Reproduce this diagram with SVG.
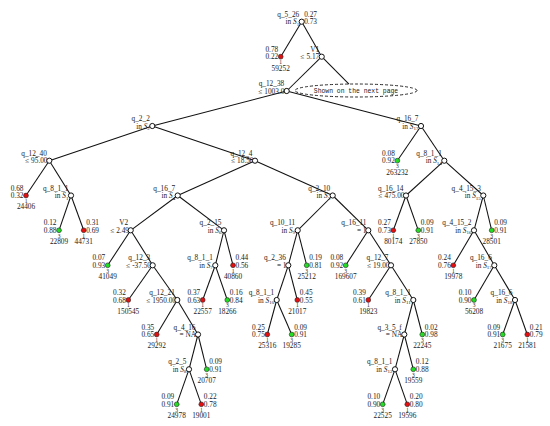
<svg xmlns="http://www.w3.org/2000/svg" width="550" height="426" viewBox="0 0 550 426">
<style>
text{font-family:"Liberation Serif","DejaVu Serif",serif;font-size:7.3px;fill:#1a1a1a}
.r{text-anchor:end}
.s{text-anchor:start}
.c{text-anchor:middle}
.d{font-size:5.5px}
.it{font-style:italic}
.sb{font-size:5px}
.e line{stroke:#111;stroke-width:1.05}
.in{fill:#fff;stroke:#111;stroke-width:1}
.red{fill:#e31010;stroke:#222;stroke-width:0.6}
.grn{fill:#22dd22;stroke:#222;stroke-width:0.6}
.tt{font-family:"Liberation Mono",monospace;font-size:6.4px}
</style>
<rect width="550" height="426" fill="#fff"/>
<g id="connectors" class="e">
<line x1="301.7" y1="21.7" x2="280.7" y2="56.7"/>
<line x1="301.7" y1="21.7" x2="321.7" y2="56.7"/>
<line x1="321.7" y1="56.7" x2="286.7" y2="91"/>
<line x1="321.7" y1="56.7" x2="349" y2="84.2"/>
<line x1="286.7" y1="91" x2="152.3" y2="126"/>
<line x1="286.7" y1="91" x2="421" y2="126"/>
<line x1="152.3" y1="126" x2="49.3" y2="160.7"/>
<line x1="152.3" y1="126" x2="255" y2="160.7"/>
<line x1="421" y1="126" x2="397.3" y2="160.7"/>
<line x1="421" y1="126" x2="444.3" y2="160.7"/>
<line x1="49.3" y1="160.7" x2="26" y2="195.5"/>
<line x1="49.3" y1="160.7" x2="71" y2="195.5"/>
<line x1="71" y1="195.5" x2="59" y2="230.3"/>
<line x1="71" y1="195.5" x2="83.7" y2="230.3"/>
<line x1="255" y1="160.7" x2="177.7" y2="195.5"/>
<line x1="255" y1="160.7" x2="332.7" y2="195.5"/>
<line x1="444.3" y1="160.7" x2="406" y2="195.5"/>
<line x1="444.3" y1="160.7" x2="483.3" y2="195.5"/>
<line x1="177.7" y1="195.5" x2="130.7" y2="230.3"/>
<line x1="177.7" y1="195.5" x2="224" y2="230.3"/>
<line x1="130.7" y1="230.3" x2="107.7" y2="265.3"/>
<line x1="130.7" y1="230.3" x2="152.7" y2="265.3"/>
<line x1="152.7" y1="265.3" x2="128.3" y2="300"/>
<line x1="152.7" y1="265.3" x2="177.3" y2="300"/>
<line x1="177.3" y1="300" x2="156.7" y2="334.5"/>
<line x1="177.3" y1="300" x2="198" y2="334.5"/>
<line x1="198" y1="334.5" x2="189" y2="369.3"/>
<line x1="198" y1="334.5" x2="206.7" y2="369.3"/>
<line x1="189" y1="369.3" x2="176.7" y2="404.3"/>
<line x1="189" y1="369.3" x2="201.3" y2="404.3"/>
<line x1="224" y1="230.3" x2="215.3" y2="265.3"/>
<line x1="224" y1="230.3" x2="233" y2="265.3"/>
<line x1="215.3" y1="265.3" x2="202.7" y2="300"/>
<line x1="215.3" y1="265.3" x2="227.3" y2="300"/>
<line x1="332.7" y1="195.5" x2="297.7" y2="230.3"/>
<line x1="332.7" y1="195.5" x2="368.3" y2="230.3"/>
<line x1="297.7" y1="230.3" x2="288.3" y2="265.3"/>
<line x1="297.7" y1="230.3" x2="306.7" y2="265.3"/>
<line x1="288.3" y1="265.3" x2="276.7" y2="300"/>
<line x1="288.3" y1="265.3" x2="297.3" y2="300"/>
<line x1="276.7" y1="300" x2="267.3" y2="334.5"/>
<line x1="276.7" y1="300" x2="291.7" y2="334.5"/>
<line x1="368.3" y1="230.3" x2="345.7" y2="265.3"/>
<line x1="368.3" y1="230.3" x2="391" y2="265.3"/>
<line x1="391" y1="265.3" x2="368.3" y2="300"/>
<line x1="391" y1="265.3" x2="413.3" y2="300"/>
<line x1="413.3" y1="300" x2="404.3" y2="334.5"/>
<line x1="413.3" y1="300" x2="422.3" y2="334.5"/>
<line x1="404.3" y1="334.5" x2="395" y2="369.3"/>
<line x1="404.3" y1="334.5" x2="413.3" y2="369.3"/>
<line x1="395" y1="369.3" x2="382.7" y2="404.3"/>
<line x1="395" y1="369.3" x2="407.3" y2="404.3"/>
<line x1="406" y1="195.5" x2="393.3" y2="230.3"/>
<line x1="406" y1="195.5" x2="418.3" y2="230.3"/>
<line x1="483.3" y1="195.5" x2="474" y2="230.3"/>
<line x1="483.3" y1="195.5" x2="491.7" y2="230.3"/>
<line x1="474" y1="230.3" x2="453.3" y2="265.3"/>
<line x1="474" y1="230.3" x2="494.3" y2="265.3"/>
<line x1="494.3" y1="265.3" x2="474" y2="300"/>
<line x1="494.3" y1="265.3" x2="515" y2="300"/>
<line x1="515" y1="300" x2="502.7" y2="334.5"/>
<line x1="515" y1="300" x2="527.3" y2="334.5"/>
</g>
<g id="next-page">
<ellipse cx="356" cy="90.5" rx="61" ry="6.5" fill="none" stroke="#111" stroke-width="0.9" stroke-dasharray="3,2"/>
<text class="c tt" x="356" y="92.7">Shown on the next page</text>
</g>
<g id="n0"><text class="r" x="299.2" y="16.7">q_5_26</text><text class="r" x="299.2" y="24.2">in <tspan class="it">S</tspan><tspan class="sb" dy="1.5">1</tspan></text><text class="s" x="304.2" y="16.7">0.27</text><text class="s" x="304.2" y="24.2">0.73</text><circle class="in" cx="301.7" cy="21.7" r="2.6"/></g>
<g id="n1"><text class="r" x="319.2" y="51.7">V1</text><text class="r" x="319.2" y="59.2">≤ 5.17</text><circle class="in" cx="321.7" cy="56.7" r="2.6"/></g>
<g id="n2"><text class="r" x="284.2" y="86">q_12_38</text><text class="r" x="288" y="93.5">≤ 1003.00</text><circle class="in" cx="286.7" cy="91" r="2.6"/></g>
<g id="n3"><text class="r" x="149.8" y="121">q_2_2</text><text class="r" x="149.8" y="128.5">in <tspan class="it">S</tspan><tspan class="sb" dy="1.5">2</tspan></text><circle class="in" cx="152.3" cy="126" r="2.6"/></g>
<g id="n4"><text class="r" x="418.5" y="121">q_16_7</text><text class="r" x="418.5" y="128.5">in <tspan class="it">S</tspan><tspan class="sb" dy="1.5">17</tspan></text><circle class="in" cx="421" cy="126" r="2.6"/></g>
<g id="n5"><text class="r" x="46.8" y="155.7">q_12_40</text><text class="r" x="47.5" y="163.2">≤ 95.00</text><circle class="in" cx="49.3" cy="160.7" r="2.6"/></g>
<g id="n6"><text class="r" x="252.5" y="155.7">q_12_4</text><text class="r" x="253.5" y="163.2">≤ 18.50</text><circle class="in" cx="255" cy="160.7" r="2.6"/></g>
<g id="n7"><text class="r" x="441.8" y="155.7">q_8_1_1</text><text class="r" x="441.8" y="163.2">in <tspan class="it">S</tspan><tspan class="sb" dy="1.5">14</tspan></text><circle class="in" cx="444.3" cy="160.7" r="2.6"/></g>
<g id="n8"><text class="r" x="68.5" y="190.5">q_8_1_1</text><text class="r" x="68.5" y="198">in <tspan class="it">S</tspan><tspan class="sb" dy="1.5">1</tspan></text><circle class="in" cx="71" cy="195.5" r="2.6"/></g>
<g id="n9"><text class="r" x="175.2" y="190.5">q_16_7</text><text class="r" x="175.2" y="198">in <tspan class="it">S</tspan><tspan class="sb" dy="1.5">4</tspan></text><circle class="in" cx="177.7" cy="195.5" r="2.6"/></g>
<g id="n10"><text class="r" x="330.2" y="190.5">q_2_10</text><text class="r" x="330.2" y="198">in <tspan class="it">S</tspan><tspan class="sb" dy="1.5">3</tspan></text><circle class="in" cx="332.7" cy="195.5" r="2.6"/></g>
<g id="n11"><text class="r" x="403.5" y="190.5">q_16_14</text><text class="r" x="404.5" y="198">≤ 475.00</text><circle class="in" cx="406" cy="195.5" r="2.6"/></g>
<g id="n12"><text class="r" x="480.8" y="190.5">q_4_15_3</text><text class="r" x="480.8" y="198">in <tspan class="it">S</tspan><tspan class="sb" dy="1.5">15</tspan></text><circle class="in" cx="483.3" cy="195.5" r="2.6"/></g>
<g id="n13"><text class="r" x="128.2" y="225.3">V2</text><text class="r" x="129" y="232.8">≤ 2.49</text><circle class="in" cx="130.7" cy="230.3" r="2.6"/></g>
<g id="n14"><text class="r" x="221.5" y="225.3">q_2_15</text><text class="r" x="221.5" y="232.8">in <tspan class="it">S</tspan><tspan class="sb" dy="1.5">6</tspan></text><circle class="in" cx="224" cy="230.3" r="2.6"/></g>
<g id="n15"><text class="r" x="295.2" y="225.3">q_10_11</text><text class="r" x="295.2" y="232.8">in <tspan class="it">S</tspan><tspan class="sb" dy="1.5">9</tspan></text><circle class="in" cx="297.7" cy="230.3" r="2.6"/></g>
<g id="n16"><text class="r" x="366.5" y="225.3">q_16_11</text><text class="r" x="366.5" y="232.8">= 1</text><circle class="in" cx="368.3" cy="230.3" r="2.6"/></g>
<g id="n17"><text class="r" x="471.5" y="225.3">q_4_15_2</text><text class="r" x="471.5" y="232.8">in <tspan class="it">S</tspan><tspan class="sb" dy="1.5">16</tspan></text><circle class="in" cx="474" cy="230.3" r="2.6"/></g>
<g id="n18"><text class="r" x="150.2" y="260.3">q_12_3</text><text class="r" x="151" y="267.8">≤ -37.50</text><circle class="in" cx="152.7" cy="265.3" r="2.6"/></g>
<g id="n19"><text class="r" x="212.8" y="260.3">q_8_1_1</text><text class="r" x="212.8" y="267.8">in <tspan class="it">S</tspan><tspan class="sb" dy="1.5">7</tspan></text><circle class="in" cx="215.3" cy="265.3" r="2.6"/></g>
<g id="n20"><text class="r" x="285.8" y="260.3">q_2_36</text><text class="r" x="286.5" y="267.8">= 1</text><circle class="in" cx="288.3" cy="265.3" r="2.6"/></g>
<g id="n21"><text class="r" x="388.5" y="260.3">q_12_7</text><text class="r" x="389.5" y="267.8">≤ 19.00</text><circle class="in" cx="391" cy="265.3" r="2.6"/></g>
<g id="n22"><text class="r" x="491.8" y="260.3">q_16_6</text><text class="r" x="491.8" y="267.8">in <tspan class="it">S</tspan><tspan class="sb" dy="1.5">17</tspan></text><circle class="in" cx="494.3" cy="265.3" r="2.6"/></g>
<g id="n23"><text class="r" x="174.8" y="295">q_12_21</text><text class="r" x="176" y="302.5">≤ 1950.00</text><circle class="in" cx="177.3" cy="300" r="2.6"/></g>
<g id="n24"><text class="r" x="274.2" y="295">q_8_1_1</text><text class="r" x="274.2" y="302.5">in <tspan class="it">S</tspan><tspan class="sb" dy="1.5">10</tspan></text><circle class="in" cx="276.7" cy="300" r="2.6"/></g>
<g id="n25"><text class="r" x="410.8" y="295">q_8_1_1</text><text class="r" x="410.8" y="302.5">in <tspan class="it">S</tspan><tspan class="sb" dy="1.5">11</tspan></text><circle class="in" cx="413.3" cy="300" r="2.6"/></g>
<g id="n26"><text class="r" x="512.5" y="295">q_16_6</text><text class="r" x="512.5" y="302.5">in <tspan class="it">S</tspan><tspan class="sb" dy="1.5">18</tspan></text><circle class="in" cx="515" cy="300" r="2.6"/></g>
<g id="n27"><text class="r" x="195.5" y="329.5">q_4_16</text><text class="r" x="196" y="337">= NA</text><circle class="in" cx="198" cy="334.5" r="2.6"/></g>
<g id="n28"><text class="r" x="401.8" y="329.5">q_3_5_f</text><text class="r" x="402.3" y="337">= NA</text><circle class="in" cx="404.3" cy="334.5" r="2.6"/></g>
<g id="n29"><text class="r" x="186.5" y="364.3">q_2_5</text><text class="r" x="186.5" y="371.8">in <tspan class="it">S</tspan><tspan class="sb" dy="1.5">8</tspan></text><circle class="in" cx="189" cy="369.3" r="2.6"/></g>
<g id="n30"><text class="r" x="392.5" y="364.3">q_8_1_1</text><text class="r" x="392.5" y="371.8">in <tspan class="it">S</tspan><tspan class="sb" dy="1.5">12</tspan></text><circle class="in" cx="395" cy="369.3" r="2.6"/></g>
<g id="leaf59252"><text class="r" x="278.2" y="51.7">0.78</text><text class="r" x="278.2" y="59.2">0.22</text><circle class="red" cx="280.7" cy="56.7" r="2.4"/><text class="c d" x="280.7" y="64">1</text><text class="c" x="280.7" y="70.5">59252</text></g>
<g id="leaf263232"><text class="r" x="394.8" y="155.7">0.08</text><text class="r" x="394.8" y="163.2">0.92</text><circle class="grn" cx="397.3" cy="160.7" r="2.4"/><text class="c d" x="397.3" y="168">3</text><text class="c" x="397.3" y="174.5">263232</text></g>
<g id="leaf24406"><text class="r" x="23.5" y="190.5">0.68</text><text class="r" x="23.5" y="198">0.32</text><circle class="red" cx="26" cy="195.5" r="2.4"/><text class="c d" x="26" y="202.8">1</text><text class="c" x="26" y="209.3">24406</text></g>
<g id="leaf22809"><text class="r" x="56.5" y="225.3">0.12</text><text class="r" x="56.5" y="232.8">0.88</text><circle class="grn" cx="59" cy="230.3" r="2.4"/><text class="c d" x="59" y="237.6">3</text><text class="c" x="59" y="244.1">22809</text></g>
<g id="leaf44731"><text class="s" x="86.2" y="225.3">0.31</text><text class="s" x="86.2" y="232.8">0.69</text><circle class="red" cx="83.7" cy="230.3" r="2.4"/><text class="c d" x="83.7" y="237.6">1</text><text class="c" x="83.7" y="244.1">44731</text></g>
<g id="leaf80174"><text class="r" x="390.8" y="225.3">0.27</text><text class="r" x="390.8" y="232.8">0.73</text><circle class="red" cx="393.3" cy="230.3" r="2.4"/><text class="c d" x="393.3" y="237.6">1</text><text class="c" x="393.3" y="244.1">80174</text></g>
<g id="leaf27850"><text class="s" x="420.8" y="225.3">0.09</text><text class="s" x="420.8" y="232.8">0.91</text><circle class="grn" cx="418.3" cy="230.3" r="2.4"/><text class="c d" x="418.3" y="237.6">3</text><text class="c" x="418.3" y="244.1">27850</text></g>
<g id="leaf28501"><text class="s" x="494.2" y="225.3">0.09</text><text class="s" x="494.2" y="232.8">0.91</text><circle class="grn" cx="491.7" cy="230.3" r="2.4"/><text class="c d" x="491.7" y="237.6">3</text><text class="c" x="491.7" y="244.1">28501</text></g>
<g id="leaf41049"><text class="r" x="105.2" y="260.3">0.07</text><text class="r" x="105.2" y="267.8">0.93</text><circle class="grn" cx="107.7" cy="265.3" r="2.4"/><text class="c d" x="107.7" y="272.6">3</text><text class="c" x="107.7" y="279.1">41049</text></g>
<g id="leaf40860"><text class="s" x="235.5" y="260.3">0.44</text><text class="s" x="235.5" y="267.8">0.56</text><circle class="red" cx="233" cy="265.3" r="2.4"/><text class="c d" x="233" y="272.6">1</text><text class="c" x="233" y="279.1">40860</text></g>
<g id="leaf25212"><text class="s" x="309.2" y="260.3">0.19</text><text class="s" x="309.2" y="267.8">0.81</text><circle class="grn" cx="306.7" cy="265.3" r="2.4"/><text class="c d" x="306.7" y="272.6">3</text><text class="c" x="306.7" y="279.1">25212</text></g>
<g id="leaf169607"><text class="r" x="343.2" y="260.3">0.08</text><text class="r" x="343.2" y="267.8">0.92</text><circle class="grn" cx="345.7" cy="265.3" r="2.4"/><text class="c d" x="345.7" y="272.6">3</text><text class="c" x="345.7" y="279.1">169607</text></g>
<g id="leaf19978"><text class="r" x="450.8" y="260.3">0.24</text><text class="r" x="450.8" y="267.8">0.76</text><circle class="red" cx="453.3" cy="265.3" r="2.4"/><text class="c d" x="453.3" y="272.6">1</text><text class="c" x="453.3" y="279.1">19978</text></g>
<g id="leaf150545"><text class="r" x="125.8" y="295">0.32</text><text class="r" x="125.8" y="302.5">0.68</text><circle class="red" cx="128.3" cy="300" r="2.4"/><text class="c d" x="128.3" y="307.3">1</text><text class="c" x="128.3" y="313.8">150545</text></g>
<g id="leaf22557"><text class="r" x="200.2" y="295">0.37</text><text class="r" x="200.2" y="302.5">0.63</text><circle class="red" cx="202.7" cy="300" r="2.4"/><text class="c d" x="202.7" y="307.3">1</text><text class="c" x="202.7" y="313.8">22557</text></g>
<g id="leaf18266"><text class="s" x="229.8" y="295">0.16</text><text class="s" x="229.8" y="302.5">0.84</text><circle class="grn" cx="227.3" cy="300" r="2.4"/><text class="c d" x="227.3" y="307.3">3</text><text class="c" x="227.3" y="313.8">18266</text></g>
<g id="leaf21017"><text class="s" x="299.8" y="295">0.45</text><text class="s" x="299.8" y="302.5">0.55</text><circle class="red" cx="297.3" cy="300" r="2.4"/><text class="c d" x="297.3" y="307.3">1</text><text class="c" x="297.3" y="313.8">21017</text></g>
<g id="leaf19823"><text class="r" x="365.8" y="295">0.39</text><text class="r" x="365.8" y="302.5">0.61</text><circle class="red" cx="368.3" cy="300" r="2.4"/><text class="c d" x="368.3" y="307.3">1</text><text class="c" x="368.3" y="313.8">19823</text></g>
<g id="leaf56208"><text class="r" x="471.5" y="295">0.10</text><text class="r" x="471.5" y="302.5">0.90</text><circle class="grn" cx="474" cy="300" r="2.4"/><text class="c d" x="474" y="307.3">3</text><text class="c" x="474" y="313.8">56208</text></g>
<g id="leaf29292"><text class="r" x="154.2" y="329.5">0.35</text><text class="r" x="154.2" y="337">0.65</text><circle class="red" cx="156.7" cy="334.5" r="2.4"/><text class="c d" x="156.7" y="341.8">1</text><text class="c" x="156.7" y="348.3">29292</text></g>
<g id="leaf25316"><text class="r" x="264.8" y="329.5">0.25</text><text class="r" x="264.8" y="337">0.75</text><circle class="red" cx="267.3" cy="334.5" r="2.4"/><text class="c d" x="267.3" y="341.8">1</text><text class="c" x="267.3" y="348.3">25316</text></g>
<g id="leaf19285"><text class="s" x="294.2" y="329.5">0.09</text><text class="s" x="294.2" y="337">0.91</text><circle class="grn" cx="291.7" cy="334.5" r="2.4"/><text class="c d" x="291.7" y="341.8">3</text><text class="c" x="291.7" y="348.3">19285</text></g>
<g id="leaf22245"><text class="s" x="424.8" y="329.5">0.02</text><text class="s" x="424.8" y="337">0.98</text><circle class="grn" cx="422.3" cy="334.5" r="2.4"/><text class="c d" x="422.3" y="341.8">3</text><text class="c" x="422.3" y="348.3">22245</text></g>
<g id="leaf21675"><text class="r" x="500.2" y="329.5">0.09</text><text class="r" x="500.2" y="337">0.91</text><circle class="grn" cx="502.7" cy="334.5" r="2.4"/><text class="c d" x="502.7" y="341.8">3</text><text class="c" x="502.7" y="348.3">21675</text></g>
<g id="leaf21581"><text class="s" x="529.8" y="329.5">0.21</text><text class="s" x="529.8" y="337">0.79</text><circle class="red" cx="527.3" cy="334.5" r="2.4"/><text class="c d" x="527.3" y="341.8">1</text><text class="c" x="527.3" y="348.3">21581</text></g>
<g id="leaf20707"><text class="s" x="209.2" y="364.3">0.09</text><text class="s" x="209.2" y="371.8">0.91</text><circle class="grn" cx="206.7" cy="369.3" r="2.4"/><text class="c d" x="206.7" y="376.6">3</text><text class="c" x="206.7" y="383.1">20707</text></g>
<g id="leaf19559"><text class="s" x="415.8" y="364.3">0.12</text><text class="s" x="415.8" y="371.8">0.88</text><circle class="grn" cx="413.3" cy="369.3" r="2.4"/><text class="c d" x="413.3" y="376.6">3</text><text class="c" x="413.3" y="383.1">19559</text></g>
<g id="leaf24978"><text class="r" x="174.2" y="399.3">0.09</text><text class="r" x="174.2" y="406.8">0.91</text><circle class="grn" cx="176.7" cy="404.3" r="2.4"/><text class="c d" x="176.7" y="411.6">3</text><text class="c" x="176.7" y="418.1">24978</text></g>
<g id="leaf19001"><text class="s" x="203.8" y="399.3">0.22</text><text class="s" x="203.8" y="406.8">0.78</text><circle class="red" cx="201.3" cy="404.3" r="2.4"/><text class="c d" x="201.3" y="411.6">1</text><text class="c" x="201.3" y="418.1">19001</text></g>
<g id="leaf22525"><text class="r" x="380.2" y="399.3">0.10</text><text class="r" x="380.2" y="406.8">0.90</text><circle class="grn" cx="382.7" cy="404.3" r="2.4"/><text class="c d" x="382.7" y="411.6">3</text><text class="c" x="382.7" y="418.1">22525</text></g>
<g id="leaf19596"><text class="s" x="409.8" y="399.3">0.20</text><text class="s" x="409.8" y="406.8">0.80</text><circle class="red" cx="407.3" cy="404.3" r="2.4"/><text class="c d" x="407.3" y="411.6">1</text><text class="c" x="407.3" y="418.1">19596</text></g>
</svg>
